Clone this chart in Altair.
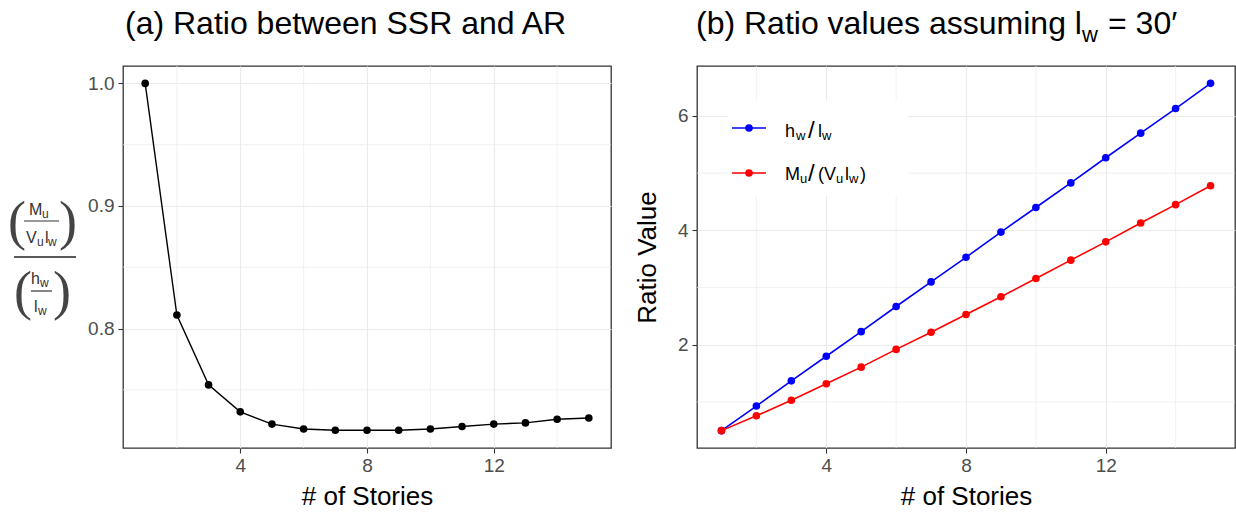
import altair as alt
import pandas as pd

# ---------------- data ----------------
stories = [1, 2, 3, 4, 5, 6, 7, 8, 9, 10, 11, 12, 13, 14, 15]
ssr_ar_ratio = [1.000, 0.811, 0.754, 0.732, 0.722, 0.718, 0.717, 0.717,
                0.717, 0.718, 0.720, 0.722, 0.723, 0.726, 0.727]
hw_lw = [0.50, 0.93, 1.37, 1.80, 2.23, 2.67, 3.10, 3.53,
         3.97, 4.40, 4.83, 5.27, 5.70, 6.13, 6.57]
mu_vulw = [0.50, 0.76, 1.03, 1.32, 1.61, 1.92, 2.22, 2.53,
           2.84, 3.16, 3.48, 3.80, 4.13, 4.45, 4.78]
series_names = ["hw/lw", "Mu/(Vu lw)"]
series_colors = ["#0000FF", "#FF0000"]

x_major = [4, 8, 12]
x_minor = [2, 6, 10, 14]
ya_major = [0.8, 0.9, 1.0]
ya_minor = [0.75, 0.85, 0.95]
yb_major = [2, 4, 6]
yb_minor = [1, 3, 5]

FONT = "Liberation Sans"
GRID = "#EBEBEB"
TXT = "#4D4D4D"
W_A, W_B, H = 488, 538, 382
PT = 58

df_a = pd.DataFrame({"stories": stories, "ratio": ssr_ar_ratio})
df_b = pd.DataFrame({
    "stories": stories + stories,
    "value": hw_lw + mu_vulw,
    "series": [series_names[0]] * len(stories) + [series_names[1]] * len(stories),
})

x_scale = alt.Scale(domain=[0.3, 15.7], nice=False, zero=False)
ya_scale = alt.Scale(domain=[0.7025, 1.0142], nice=False, zero=False)
yb_scale = alt.Scale(domain=[0.1965, 6.8735], nice=False, zero=False)


def x_axis():
    return alt.Axis(values=x_major, title="# of Stories", grid=True, gridColor=GRID,
                    gridWidth=1.1, domain=False, tickColor="#333333", tickSize=5,
                    tickWidth=1.1, labelFont=FONT, labelFontSize=19, labelColor=TXT,
                    labelPadding=3, titleFont=FONT, titleFontSize=26,
                    titleFontWeight="normal", titleColor="black", titlePadding=8)


def y_axis(values, title, fmt):
    kw = dict(values=values, grid=True, gridColor=GRID, gridWidth=1.1, domain=False,
              tickColor="#333333", tickSize=5, tickWidth=1.1, labelFont=FONT,
              labelFontSize=19, labelColor=TXT, labelPadding=4, format=fmt)
    if title is None:
        kw["title"] = None
    else:
        kw.update(title=title, titleFont=FONT, titleFontSize=26,
                  titleFontWeight="normal", titleColor="black", titlePadding=17)
    return alt.Axis(**kw)


def label(text, x, y, size, align="left", baseline="alphabetic", color="black",
          font=FONT):
    return alt.Chart(pd.DataFrame({"t": [text]})).mark_text(
        align=align, baseline=baseline, fontSize=size, font=font, color=color
    ).encode(x=alt.value(x), y=alt.value(y), text="t:N")


def hline(x1, x2, y, color="#333333", width=1.2):
    return alt.Chart(pd.DataFrame({"t": [0]})).mark_rule(
        color=color, strokeWidth=width
    ).encode(x=alt.value(x1), x2=alt.value(x2), y=alt.value(y))


# ---------------- panel (a) ----------------
ax_x = x_axis()
ax_ya = y_axis(ya_major, None, ".1f")

minor_xa = alt.Chart(pd.DataFrame({"v": x_minor})).mark_rule(
    color=GRID, strokeWidth=0.7).encode(x=alt.X("v:Q", scale=x_scale, axis=ax_x))
minor_ya = alt.Chart(pd.DataFrame({"v": ya_minor})).mark_rule(
    color=GRID, strokeWidth=0.7).encode(y=alt.Y("v:Q", scale=ya_scale, axis=ax_ya))

line_a = alt.Chart(df_a).mark_line(
    color="black", strokeWidth=1.4,
    point=alt.OverlayMarkDef(filled=True, size=PT, color="black", opacity=1)
).encode(x=alt.X("stories:Q", scale=x_scale, axis=ax_x),
         y=alt.Y("ratio:Q", scale=ya_scale, axis=ax_ya))

FC = "#333333"
PAREN = "Liberation Serif"
ylab_a = [
    label("(", -106, 157, 54, align="center", baseline="middle", color="#444444", font=PAREN),
    label(")", -55, 157, 54, align="center", baseline="middle", color="#444444", font=PAREN),
    label("M", -94, 149, 16, color=FC),
    label("u", -81, 152, 12, color=FC),
    hline(-99, -64, 155, FC, 1.2),
    label("V", -97, 177, 16, color=FC),
    label("u", -86, 180, 12, color=FC),
    label("l", -78, 177, 16, color=FC),
    label("w", -75, 180, 12, color=FC),
    hline(-109, -47, 191, "#222222", 1.4),
    label("(", -100, 227, 54, align="center", baseline="middle", color="#444444", font=PAREN),
    label(")", -61, 227, 54, align="center", baseline="middle", color="#444444", font=PAREN),
    label("h", -92, 218, 16, color=FC),
    label("w", -83, 221, 12, color=FC),
    hline(-92, -71, 225, FC, 1.2),
    label("l", -89, 246, 16, color=FC),
    label("w", -85, 249, 12, color=FC),
]
title_a = label("(a) Ratio between SSR and AR", 2, -32, 32)

panel_a = alt.layer(minor_xa, minor_ya, line_a, *ylab_a, title_a).properties(
    width=W_A, height=H)

# ---------------- panel (b) ----------------
ax_yb = y_axis(yb_major, "Ratio Value", "d")
minor_xb = alt.Chart(pd.DataFrame({"v": x_minor})).mark_rule(
    color=GRID, strokeWidth=0.7).encode(x=alt.X("v:Q", scale=x_scale, axis=ax_x))
minor_yb = alt.Chart(pd.DataFrame({"v": yb_minor})).mark_rule(
    color=GRID, strokeWidth=0.7).encode(y=alt.Y("v:Q", scale=yb_scale, axis=ax_yb))

color_scale = alt.Scale(domain=series_names, range=series_colors)
lines_b = alt.Chart(df_b).mark_line(
    strokeWidth=1.6,
    point=alt.OverlayMarkDef(filled=True, size=PT, opacity=1)
).encode(x=alt.X("stories:Q", scale=x_scale, axis=ax_x),
         y=alt.Y("value:Q", scale=yb_scale, axis=ax_yb),
         color=alt.Color("series:N", scale=color_scale, legend=None),
         detail="series:N")

legend_bg = alt.Chart(pd.DataFrame({"t": [0]})).mark_rect(color="white").encode(
    x=alt.value(31), x2=alt.value(211), y=alt.value(35), y2=alt.value(130))


def sym(y, color):
    return [
        hline(35, 69, y, color, 1.6),
        alt.Chart(pd.DataFrame({"t": [0]})).mark_point(
            filled=True, size=PT, color=color, opacity=1
        ).encode(x=alt.value(52), y=alt.value(y)),
    ]


legend_items = sym(62, series_colors[0]) + sym(107, series_colors[1]) + [
    label("h", 88, 71, 18),
    label("w", 99, 74, 13),
    label("/", 111, 72, 24),
    label("l", 121, 71, 18),
    label("w", 125, 74, 13),
    label("M", 88, 114, 18),
    label("u", 103, 117, 13),
    label("/", 111, 115, 24),
    label("(", 121, 114, 18),
    label("V", 127, 114, 18),
    label("u", 139, 117, 13),
    label("l", 148, 114, 18),
    label("w", 152, 117, 13),
    label(")", 163, 114, 18),
]

title_b = [
    label("(b) Ratio values assuming l", -1, -32, 32),
    label("w", 385, -24, 22),
    label("= 30\u2032", 411, -32, 32),
]

panel_b = alt.layer(minor_xb, minor_yb, lines_b, legend_bg, *legend_items,
                    *title_b).properties(width=W_B, height=H)

chart = alt.hconcat(panel_a, panel_b, spacing=21).properties(
    padding={"left": 7, "top": 7, "right": 0, "bottom": 0},
    background="white",
).configure_view(stroke="#333333", strokeWidth=1.3)

chart.save("out.html", embed_options={"renderer": "svg", "actions": False})
